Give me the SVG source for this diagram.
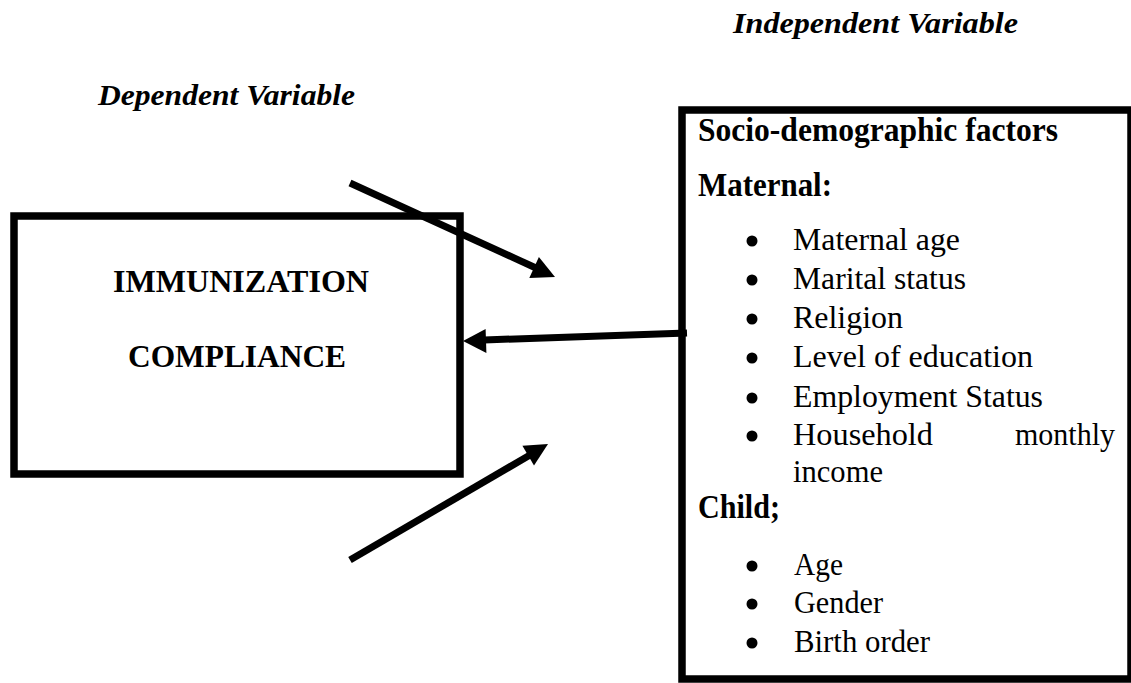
<svg xmlns="http://www.w3.org/2000/svg" width="1131" height="683" viewBox="0 0 1131 683">
<style>
  .box { fill: none; stroke: #000; stroke-width: 7.5; }
  .t { font-family: "Liberation Serif", "Times New Roman", serif; fill: #000; }
  .bi { font-weight: bold; font-style: italic; font-size: 29px; }
  .b { font-weight: bold; font-size: 33px; }
  .bc { font-weight: bold; font-size: 32px; }
  .r { font-size: 31px; }
  .ln { stroke: #000; stroke-width: 7; fill: none; }
  .hd { fill: #000; stroke: none; }
  .dot { fill: #000; }
</style>
<rect width="1131" height="683" fill="#fff"/>

<g id="label-independent">
  <text class="t bi" x="733" y="33" textLength="285" lengthAdjust="spacingAndGlyphs">Independent Variable</text>
</g>
<g id="label-dependent">
  <text class="t bi" x="98" y="105" textLength="257" lengthAdjust="spacingAndGlyphs">Dependent Variable</text>
</g>

<g id="node-immunization">
  <rect class="box" x="14" y="216" width="446" height="258"/>
  <text class="t bc" x="113" y="292" textLength="256" lengthAdjust="spacingAndGlyphs">IMMUNIZATION</text>
  <text class="t bc" x="128" y="367" textLength="218" lengthAdjust="spacingAndGlyphs">COMPLIANCE</text>
</g>

<g id="node-factors">
  <rect class="box" x="682" y="110" width="449" height="569"/>
  <text class="t b" x="698" y="141" textLength="360" lengthAdjust="spacingAndGlyphs">Socio-demographic factors</text>
  <text class="t b" x="698" y="196" textLength="134" lengthAdjust="spacingAndGlyphs">Maternal:</text>
  <circle class="dot" cx="752" cy="241" r="5.5"/>
  <text class="t r" x="793" y="250" textLength="167" lengthAdjust="spacingAndGlyphs">Maternal age</text>
  <circle class="dot" cx="752" cy="280" r="5.5"/>
  <text class="t r" x="793" y="289" textLength="173" lengthAdjust="spacingAndGlyphs">Marital status</text>
  <circle class="dot" cx="752" cy="319" r="5.5"/>
  <text class="t r" x="793" y="328" textLength="110" lengthAdjust="spacingAndGlyphs">Religion</text>
  <circle class="dot" cx="752" cy="358" r="5.5"/>
  <text class="t r" x="793" y="367" textLength="240" lengthAdjust="spacingAndGlyphs">Level of education</text>
  <circle class="dot" cx="752" cy="398" r="5.5"/>
  <text class="t r" x="793" y="407" textLength="250" lengthAdjust="spacingAndGlyphs">Employment Status</text>
  <circle class="dot" cx="752" cy="436" r="5.5"/>
  <text class="t r" x="793" y="445" textLength="140" lengthAdjust="spacingAndGlyphs">Household</text>
  <text class="t r" x="1015" y="445" textLength="100" lengthAdjust="spacingAndGlyphs">monthly</text>
  <text class="t r" x="793" y="482" textLength="90" lengthAdjust="spacingAndGlyphs">income</text>
  <text class="t b" x="698" y="518" textLength="82" lengthAdjust="spacingAndGlyphs">Child;</text>
  <circle class="dot" cx="752" cy="566" r="5.5"/>
  <text class="t r" x="794" y="575" textLength="49" lengthAdjust="spacingAndGlyphs">Age</text>
  <circle class="dot" cx="752" cy="604" r="5.5"/>
  <text class="t r" x="794" y="613" textLength="89" lengthAdjust="spacingAndGlyphs">Gender</text>
  <circle class="dot" cx="752" cy="643" r="5.5"/>
  <text class="t r" x="794" y="652" textLength="136" lengthAdjust="spacingAndGlyphs">Birth order</text>
</g>

<g id="connectors">
  <line class="ln" x1="350" y1="183" x2="536" y2="268"/>
  <polygon class="hd" points="555,277 529.3,277.9 538.9,256.9"/>
  <line class="ln" x1="687" y1="333" x2="484" y2="340"/>
  <polygon class="hd" points="463,341 485.6,329 486.4,353"/>
  <line class="ln" x1="350" y1="560" x2="530" y2="455"/>
  <polygon class="hd" points="548,444 534,465.5 522.4,445.7"/>
</g>
</svg>
